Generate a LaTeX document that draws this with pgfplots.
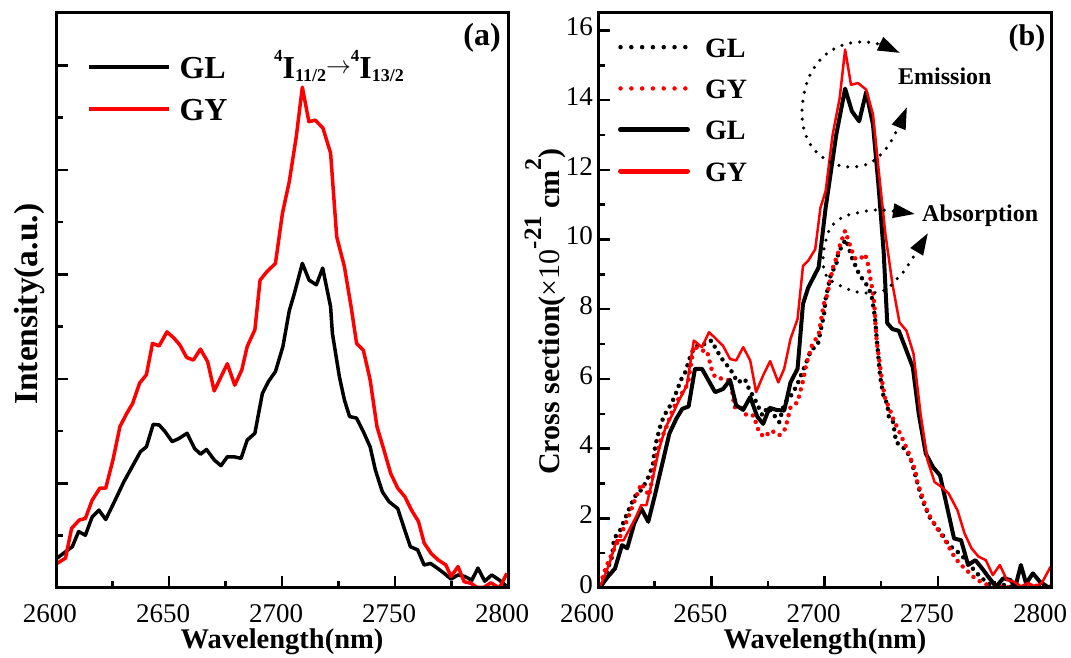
\documentclass[border=0pt]{standalone}
\usepackage{fontspec}
\setmainfont{Liberation Serif}
\usepackage{pgfplots}
\pgfplotsset{compat=1.18}
\usetikzlibrary{arrows.meta}
\pgfplotsset{
  panel/.style={
    scale only axis, height=575pt,
    xmin=2600, xmax=2800,
    xtick={2600,2650,2700,2750,2800},
    xticklabels={2600,2650,2700,2750,2800},
    minor xtick={2625,2675,2725,2775},
    tick align=inside, tick pos=left,
    axis line style={line width=3pt},
    major tick length=12pt, minor tick length=7pt,
    tick style={line width=2.5pt, black},
    axis on top,
    xticklabel style={font=\fontsize{27}{27}\selectfont, anchor=north, inner sep=0pt, yshift=-16pt},
    legend cell align=left,
  }
}
\begin{document}
\begin{tikzpicture}
\path[use as bounding box] (0pt,0pt) rectangle (1071pt,658pt);
% ---------------- panel (a)
\begin{axis}[panel, at={(56pt,70pt)}, anchor=south west, width=452pt,
  ymin=0, ymax=11, ytick={2,4,6,8,10}, yticklabels={}, minor ytick={1,3,5,7,9},
  xticklabel style={xshift=-6pt},
  legend image code/.code={\draw[#1] (0pt,0pt) -- (80pt,0pt);},
  legend style={at={(0.0686,0.925)}, anchor=north west, draw=none, fill=none,
    inner sep=0pt, outer sep=0pt, row sep=20pt, column sep=9pt,
    font=\bfseries\fontsize{32}{32}\selectfont,
    nodes={inner sep=0pt, text height=22pt, text depth=0pt}},
]
\addplot[black, line width=3.5pt, line join=round] coordinates {
(2600.4,0.57)(2607.2,0.79)(2610,1.08)(2613,1.01)(2616,1.36)(2619,1.49)(2622,1.31)
(2625.5,1.62)(2630,2.03)(2634.6,2.39)(2637.4,2.61)(2640,2.70)(2643,3.13)(2645.6,3.12)
(2648.3,2.99)(2651.4,2.80)(2654.4,2.86)(2658,2.96)(2661.3,2.67)(2664,2.56)(2666.6,2.65)
(2670,2.45)(2673,2.34)(2675.8,2.51)(2678.8,2.51)(2681.9,2.48)(2684.6,2.83)(2688,2.96)
(2691.3,3.72)(2694,3.95)(2697.1,4.14)(2700.4,4.62)(2703.2,5.30)(2705.5,5.64)(2709,6.21)
(2712,5.89)(2715.2,5.80)(2718,6.12)(2721.5,5.38)(2722.3,4.87)(2725.4,4.04)(2727.6,3.60)
(2729.9,3.28)(2733,3.25)(2736,2.99)(2739,2.70)(2741.3,2.26)(2744.4,1.84)(2747.4,1.65)
(2751.2,1.52)(2754.3,1.11)(2756.8,0.79)(2760,0.73)(2762.9,0.44)(2765.7,0.47)(2768.7,0.38)
(2771.8,0.28)(2774.8,0.17)(2777.9,0.25)(2780.9,0.22)(2784,0.15)(2786.7,0.38)(2789.7,0.13)
(2792.8,0.25)(2796.2,0.15)(2799.2,0.04)
};
\addlegendentry{GL}
\addplot[red, line width=3.5pt, line join=round] coordinates {
(2600.4,0.47)(2604.2,0.57)(2606.9,1.14)(2610.3,1.30)(2613,1.33)(2616,1.68)(2619.4,1.91)
(2622,1.91)(2625.2,2.45)(2628.3,3.09)(2631.3,3.34)(2633.9,3.53)(2637,3.92)(2640,4.08)
(2642.7,4.68)(2645.6,4.63)(2649.1,4.90)(2652.2,4.78)(2654.8,4.65)(2657.8,4.41)(2660.8,4.36)
(2663.9,4.57)(2667.1,4.33)(2670,3.77)(2673,4.04)(2675.8,4.29)(2679.1,3.88)(2682.2,4.17)
(2684.6,4.62)(2688,4.94)(2690.3,5.89)(2693.3,6.05)(2697.1,6.21)(2700.2,7.17)(2703.2,7.77)
(2706.3,8.63)(2709,9.58)(2711.9,8.92)(2714.7,8.95)(2718.1,8.80)(2721.5,8.32)(2724.2,6.72)
(2727.6,6.15)(2730.5,5.40)(2733,4.68)(2736,4.55)(2739,3.98)(2742,3.09)(2745.1,2.64)
(2748.1,2.19)(2751.2,1.91)(2754.3,1.75)(2757.3,1.49)(2760.4,1.27)(2762.9,0.86)(2766,0.66)
(2769,0.54)(2772.5,0.44)(2774.8,0.22)(2777.9,0.41)(2780.6,0.12)(2783.6,0.09)(2786.3,0.01)
(2789.3,0.01)(2792.4,0.10)(2796.2,0.0)(2799.5,0.28)
};
\addlegendentry{GY}
\end{axis}
% ---------------- panel (b)
\begin{axis}[panel, at={(598pt,70pt)}, anchor=south west, width=453pt,
  ymin=0, ymax=16.5, ytick={0,2,4,6,8,10,12,14,16},
  yticklabels={0,2,4,6,8,10,12,14,16}, minor ytick={1,3,5,7,9,11,13,15},
  yticklabel style={font=\fontsize{27}{27}\selectfont, anchor=east, inner sep=0pt, xshift=-5pt, yshift=3.5pt},
  xticklabel style={xshift=-11pt},
  legend image code/.code={\draw[#1] (0pt,0pt) -- (67pt,0pt);},
  legend style={at={(0.0442,0.958)}, anchor=north west, draw=none, fill=none,
    inner sep=0pt, outer sep=0pt, row sep=21.3pt, column sep=15pt,
    font=\bfseries\fontsize{28}{28}\selectfont,
    nodes={inner sep=0pt, text height=20pt, text depth=0pt}},
]
\addlegendimage{black, line width=4.5pt, line cap=round, dash pattern=on 0pt off 10.8pt}
\addlegendentry{GL}
\addlegendimage{red, line width=4.5pt, line cap=round, dash pattern=on 0pt off 10.8pt}
\addlegendentry{GY}
\addlegendimage{black, line width=5pt, line cap=round}
\addlegendentry{GL}
\addlegendimage{red, line width=5pt, line cap=round}
\addlegendentry{GY}
% absorption GL (dotted black)
\addplot[forget plot, black, line width=4.5pt, line cap=round, dash pattern=on 0pt off 7.5pt] coordinates {
(2601,0.07)(2603.6,0.42)(2606.2,0.90)(2607.1,1.42)(2609.8,1.66)(2612.9,2.14)(2616,2.61)
(2619.6,2.85)(2622.2,3.18)(2624.2,3.52)(2625.3,4.09)(2627.6,4.67)(2629.2,4.95)(2631.5,5.19)
(2633.8,5.48)(2636.6,5.97)(2638.5,6.19)(2641.3,6.76)(2644.4,7.0)(2647,7.0)(2650.1,7.10)
(2652.5,6.81)(2655.2,6.53)(2658.3,6.29)(2661.7,5.90)(2664.8,6.0)(2666.7,5.71)(2669.5,5.38)
(2672.6,4.95)(2674.9,5.19)(2677.3,5.0)(2680,4.76)(2682.2,5.29)(2685.8,5.57)(2688.1,5.86)
(2690.5,6.24)(2694,6.81)(2697.1,7.0)(2699.8,7.86)(2700.5,8.3)(2702.8,9.0)(2705.2,9.29)
(2706,9.58)(2708,9.86)(2709.5,10.0)(2712.1,9.48)(2715.3,9.0)(2718.4,8.72)(2720.7,8.43)
(2722.3,7.76)(2723,7.2)(2724.6,6.05)(2726.1,5.48)(2727.7,5.29)(2728.5,4.86)(2730.3,4.76)
(2731.6,4.19)(2736.2,3.95)(2738.5,3.62)(2740.9,3.04)(2743.2,2.52)(2746.3,2.04)(2749.4,1.76)
(2751.7,1.57)(2754.8,1.23)(2757.9,1.09)(2761,0.90)(2764.1,0.66)(2767.3,0.42)(2770.4,0.23)
(2773.5,0.09)(2777,0.05)(2780,0.10)(2783,0.02)(2787,0.10)(2790,0.0)(2793,0.08)(2797,0.0)(2800,0.05)
};
% absorption GY (dotted red)
\addplot[forget plot, red, line width=4.5pt, line cap=round, dash pattern=on 0pt off 7.5pt] coordinates {
(2601,0.10)(2603.6,0.61)(2606.2,0.99)(2609,1.37)(2611.3,1.71)(2614,2.14)(2616.8,2.61)
(2619.1,3.0)(2622.6,2.65)(2625.3,3.66)(2627.6,4.24)(2629.9,4.57)(2632.6,5.05)(2634.6,5.33)
(2636.9,5.57)(2639.7,5.86)(2642.3,6.95)(2645.5,6.81)(2648.1,6.81)(2650.1,6.29)(2651.7,6.05)
(2655.2,6.0)(2658.6,5.95)(2660.2,5.19)(2663.3,5.19)(2665.6,4.95)(2668.7,4.95)(2671.1,4.47)
(2673.4,4.33)(2676.5,4.52)(2680,4.38)(2682.7,4.57)(2685,5.19)(2688.1,5.33)(2690.5,5.95)
(2692,6.43)(2694.4,6.95)(2697.5,7.29)(2698.2,7.58)(2699.7,8.15)(2701.3,8.43)(2702.1,8.72)
(2704.1,9.29)(2705.7,9.53)(2706.7,9.82)(2709.1,10.25)(2710.6,9.96)(2712.1,9.67)(2713.7,9.44)
(2715.7,9.44)(2717.9,9.58)(2719.2,9.29)(2719.9,9.0)(2720.7,8.72)(2721.5,8.43)(2722,8.15)
(2722.5,7.58)(2723,7.10)(2725.4,5.95)(2726.9,5.38)(2728.5,5.19)(2730,4.90)(2733.1,4.47)
(2734.7,4.24)(2737,3.90)(2738.5,3.62)(2740.1,3.38)(2740.9,3.04)(2743.2,2.61)(2745.5,2.18)
(2747.9,1.90)(2750.2,1.66)(2753.3,1.37)(2756.4,0.99)(2759.5,0.71)(2762.6,0.52)(2765.7,0.32)
(2768.8,0.18)(2771.9,0.09)(2775,0.0)(2778,0.05)(2781,0.02)(2785,0.08)(2789,0.0)(2792,0.10)(2796,0.0)(2800,0.05)
};
% emission GL (solid black)
\addplot[forget plot, black, line width=4pt, line join=round] coordinates {
(2600.9,0.02)(2604.3,0.32)(2607.5,0.56)(2610.6,1.23)(2612.9,1.14)(2616,1.85)(2619.1,2.28)
(2622.2,1.90)(2625.3,2.71)(2628.4,3.57)(2631.5,4.43)(2634.6,4.86)(2637.2,5.14)(2640,5.21)
(2642.8,6.29)(2645.9,6.29)(2651.7,5.62)(2655.2,5.71)(2658.3,5.97)(2661,5.24)(2664.1,5.11)
(2667.2,5.48)(2670.3,4.92)(2672.9,4.71)(2675.7,5.17)(2678.8,5.11)(2682.2,5.09)(2685,5.90)
(2688.1,6.29)(2690.5,8.15)(2692.8,8.62)(2697.4,9.20)(2700.5,10.91)(2705.2,13.01)(2709.1,14.33)
(2712.1,13.68)(2715.3,13.39)(2718.4,14.23)(2721.4,13.30)(2723.8,11.58)(2726.1,9.67)(2727.7,7.6)
(2730,7.43)(2732.8,7.38)(2735.9,6.86)(2739,6.33)(2741.6,5.00)(2744.7,3.86)(2747.9,3.47)
(2751,3.23)(2754.1,2.33)(2757.2,1.42)(2760.3,1.37)(2763.4,0.66)(2766.6,0.80)(2769.6,0.56)
(2772.8,0.28)(2775.8,0.04)(2778.9,0.28)(2782,0.23)(2784.3,0.04)(2786.7,0.66)(2789,0.13)
(2792,0.42)(2795.1,0.18)(2798.3,0.04)(2800,0.0)
};
% emission GY (solid red)
\addplot[forget plot, red, line width=2.5pt, line join=round] coordinates {
(2600.9,0.02)(2605.1,0.71)(2608.2,1.37)(2611.3,1.37)(2616.8,2.04)(2619.1,2.38)(2621.4,2.38)
(2623.7,3.0)(2626.8,3.95)(2629.9,4.62)(2633,5.0)(2636.1,5.43)(2639.2,5.81)(2642.3,7.10)
(2645.9,6.91)(2649,7.34)(2652.1,7.15)(2655.2,6.95)(2658.3,6.57)(2661,6.53)(2664.1,6.91)
(2667.2,6.53)(2669.8,5.62)(2672.9,6.10)(2676,6.51)(2679.6,5.90)(2682.2,6.29)(2685,7.15)
(2688.1,7.72)(2690.5,9.24)(2692.8,9.39)(2695.9,9.72)(2698.2,10.91)(2700.5,11.39)(2703.6,13.01)
(2706.7,14.06)(2709.1,15.45)(2711.7,14.44)(2714.8,14.49)(2718.4,14.30)(2721.4,13.59)
(2723.8,12.06)(2726.9,10.15)(2730,8.72)(2733.1,7.62)(2736.2,7.38)(2739.3,6.72)(2742.4,5.0)
(2745.5,3.66)(2748.6,3.04)(2751.7,2.90)(2754.8,2.71)(2758.7,2.23)(2761.8,1.57)(2764.9,1.14)
(2768,0.90)(2771.2,0.80)(2774.3,0.37)(2777.4,0.66)(2780.5,0.23)(2783.6,0.18)(2786.7,0.04)
(2789.8,0.15)(2792.9,0.04)(2796,0.15)(2799.8,0.61)
};
\end{axis}
% ---------------- texts, panel (a)
\node[font=\bfseries\fontsize{32}{32}\selectfont] at (482pt,620pt) {(a)};
\node[anchor=base, inner sep=0pt, font=\bfseries\fontsize{32}{32}\selectfont] at (339pt,579pt)
  {\raisebox{17pt}{\fontsize{17}{17}\selectfont 4}I\raisebox{-3pt}{\fontsize{18}{18}\selectfont 11/2}\raisebox{5pt}{$\rightarrow$}\raisebox{17pt}{\fontsize{17}{17}\selectfont 4}I\raisebox{-3pt}{\fontsize{18}{18}\selectfont 13/2}};
\node[rotate=90, anchor=base west, inner sep=0pt, font=\bfseries\fontsize{33.5}{33.5}\selectfont] at (37pt,253pt) {Intensity(a.u.)};
\node[anchor=base, inner sep=0pt, font=\bfseries\fontsize{28.5}{28.5}\selectfont] at (282pt,9pt) {Wavelength(nm)};
% ---------------- texts, panel (b)
\node[font=\bfseries\fontsize{30}{30}\selectfont] at (1027pt,620pt) {(b)};
\node[rotate=90, anchor=base west, inner sep=0pt, font=\bfseries\fontsize{30}{30}\selectfont] at (559pt,183pt)
  {Cross section({\mdseries ×10}\raisebox{18pt}{\fontsize{25}{25}\selectfont -21} cm\raisebox{18pt}{\fontsize{24}{24}\selectfont 2})};
\node[anchor=base, inner sep=0pt, font=\bfseries\fontsize{28.5}{28.5}\selectfont] at (825pt,9pt) {Wavelength(nm)};
\node[anchor=base west, inner sep=0pt, font=\bfseries\fontsize{24}{24}\selectfont] at (898pt,573pt) {Emission};
\node[anchor=base west, inner sep=0pt, font=\bfseries\fontsize{24}{24}\selectfont] at (922pt,436pt) {Absorption};
\draw[black, line width=3.5pt, line cap=round, dash pattern=on 0pt off 9pt,
  {Triangle[length=22pt,width=14pt]}-{Triangle[length=22pt,width=14pt]}]
  plot[smooth, tension=0.6] coordinates {(900pt,605pt) (878pt,614pt) (860pt,616pt) (843pt,613pt) (825pt,603pt) (810pt,583pt) (803pt,558pt) (803pt,533pt) (812pt,511pt) (830pt,496pt) (850pt,491pt) (870pt,495pt) (885pt,508pt) (896pt,526pt) (907pt,551pt)};
\draw[black, line width=3.5pt, line cap=round, dash pattern=on 0pt off 9pt,
  {Triangle[length=22pt,width=14pt]}-{Triangle[length=22pt,width=14pt]}]
  plot[smooth, tension=0.6] coordinates {(915pt,444pt) (893pt,447pt) (875pt,448pt) (857pt,445pt) (843pt,441pt) (831pt,431pt) (826pt,418pt) (823pt,398pt) (827pt,381pt) (843pt,371pt) (857pt,366pt) (871pt,365pt) (885pt,368pt) (896pt,378pt) (907pt,391pt) (928pt,425pt)};
\end{tikzpicture}
\end{document}
